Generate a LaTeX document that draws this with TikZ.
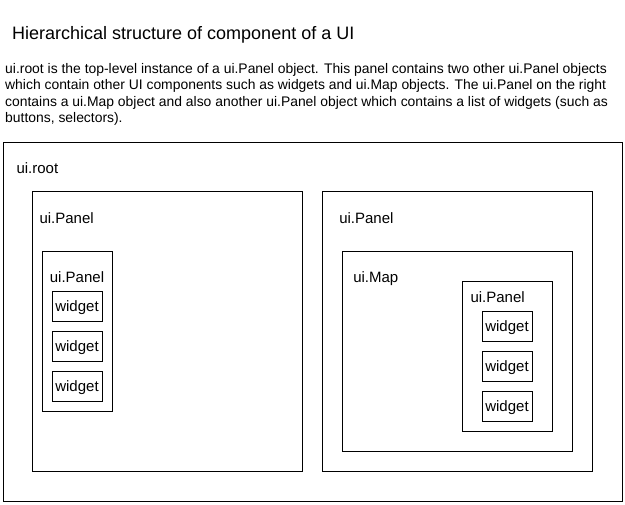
\documentclass[tikz,border=0pt]{standalone}
\usepackage{fontspec}
\setmainfont{Liberation Sans}
\begin{document}
\begin{tikzpicture}[x=1pt,y=-1pt,
  box/.style={draw=black, line width=1pt, rectangle, inner sep=0pt, outer sep=0pt, anchor=north west},
  lbl/.style={anchor=base west, inner sep=0pt, outer sep=0pt, font=\fontsize{15}{18}\selectfont},
  widgetbox/.style={box, minimum width=50pt, minimum height=30pt, text height=9.4pt, text depth=0pt, font=\fontsize{15}{18}\selectfont}]
\useasboundingbox[fill=white] (0,0) rectangle (625,505);

% title and description
\node[anchor=base west, inner sep=0pt, font=\fontsize{18}{21}\selectfont] (title) at (12,39.6) {Hierarchical structure of component of a UI};
\node[anchor=base west, inner sep=0pt, align=left, font=\fontsize{13.9}{16.27}\selectfont] (desc) at (5,122.3)
  {ui.root is the top-level instance of a ui.Panel object. This panel contains two other ui.Panel objects\\
   which contain other UI components such as widgets and ui.Map objects. The ui.Panel on the right\\
   contains a ui.Map object and also another ui.Panel object which contains a list of widgets (such as\\
   buttons, selectors).};

% containers
\node[box, minimum width=619pt, minimum height=359pt] (root) at (3,143) {};
\node[lbl] (rootlbl) at (16.5,173.3) {ui.root};

\node[box, minimum width=270pt, minimum height=280pt] (lpanel) at (32,192) {};
\node[lbl] (lpanellbl) at (39.5,223.3) {ui.Panel};

\node[box, minimum width=70pt, minimum height=160pt] (linner) at (42,252) {};
\node[lbl, anchor=base] (linnerlbl) at (77,282.7) {ui.Panel};
\node[widgetbox] (lw1) at (52,292) {widget};
\node[widgetbox] (lw2) at (52,332) {widget};
\node[widgetbox] (lw3) at (52,372) {widget};

\node[box, minimum width=270pt, minimum height=280pt] (rpanel) at (322,192) {};
\node[lbl] (rpanellbl) at (339.3,223.3) {ui.Panel};

\node[box, minimum width=230pt, minimum height=200pt] (map) at (342,252) {};
\node[lbl] (maplbl) at (353.3,282.7) {ui.Map};

\node[box, minimum width=90pt, minimum height=150pt] (rinner) at (462,282) {};
\node[lbl] (rinnerlbl) at (470.5,302.7) {ui.Panel};
\node[widgetbox] (rw1) at (482,312) {widget};
\node[widgetbox] (rw2) at (482,352) {widget};
\node[widgetbox] (rw3) at (482,392) {widget};
\end{tikzpicture}
\end{document}
